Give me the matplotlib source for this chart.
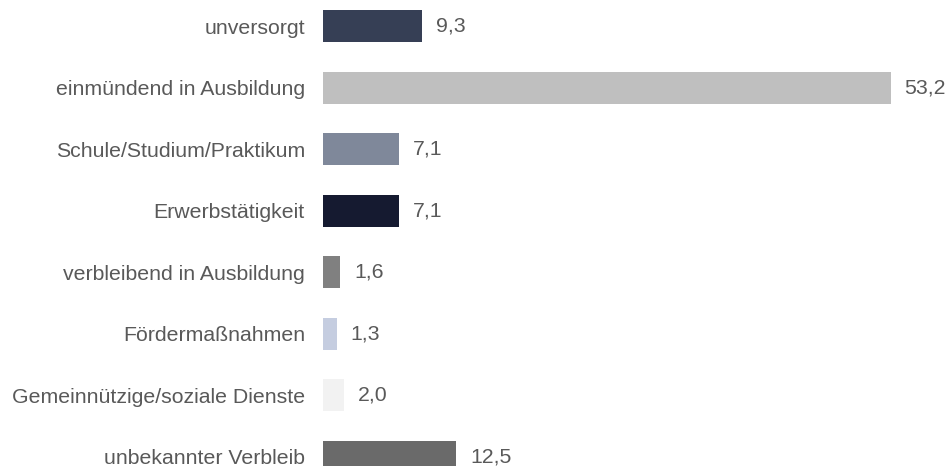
import matplotlib.pyplot as plt

# Verbleib data (percent)
categories = [
    'unversorgt',
    'einmündend in Ausbildung',
    'Schule/Studium/Praktikum',
    'Erwerbstätigkeit',
    'verbleibend in Ausbildung',
    'Fördermaßnahmen',
    'Gemeinnützige/soziale Dienste',
    'unbekannter Verbleib',
]
values = [9.3, 53.2, 7.1, 7.1, 1.6, 1.3, 2.0, 12.5]
bar_colors = ['#363f55', '#bfbfbf', '#7f889a', '#151a30',
              '#808080', '#c5cde0', '#f2f2f2', '#6a6a6a']

plt.rcParams['font.family'] = ['Liberation Sans', 'DejaVu Sans']
text_color = '#595959'
fs = 15.3

fig = plt.figure(figsize=(9.47, 4.66), dpi=100)
ax = fig.add_axes([323 / 947, 0, 1 - 323 / 947, 1])

pos = list(range(len(categories)))
ax.barh(pos, values, height=0.52, color=bar_colors)

# value labels to the right of each bar, German decimal comma
for y, v in zip(pos, values):
    ax.annotate(f'{v:.1f}'.replace('.', ','), xy=(v, y), xytext=(10, 0),
                textcoords='offset points', va='center', ha='left',
                fontsize=fs, color=text_color)

ax.set_xlim(0, (947 - 323) / 10.67)
ax.set_ylim(7.15, -0.43)
ax.set_yticks(pos)
ax.set_yticklabels(categories, fontsize=fs, color=text_color)
ax.tick_params(axis='y', length=0, pad=13)
ax.set_xticks([])
for s in ax.spines.values():
    s.set_visible(False)

fig.savefig('out.png', dpi=100)
